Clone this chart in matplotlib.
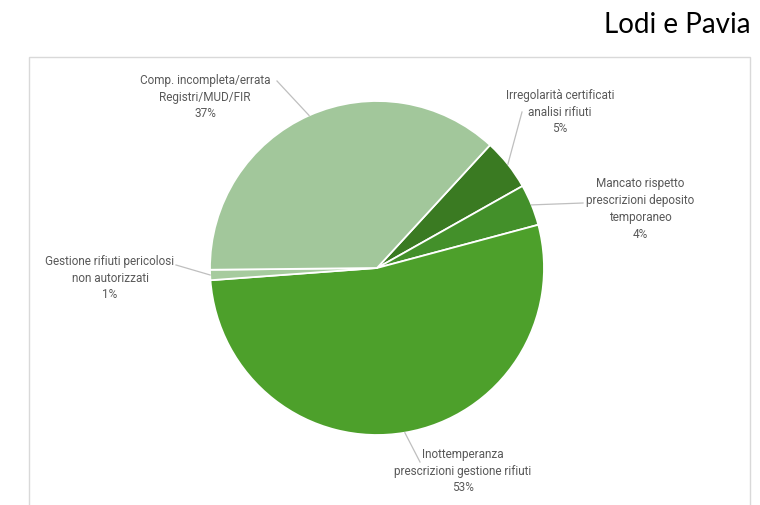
import numpy as np
import matplotlib
matplotlib.use("Agg")
import matplotlib.pyplot as plt
from matplotlib.patches import Rectangle

# slices in clockwise order, starting from the top-right one
labels = [
    "Irregolarità certificati\nanalisi rifiuti",
    "Mancato rispetto\nprescrizioni deposito\ntemporaneo",
    "Inottemperanza\nprescrizioni gestione rifiuti",
    "Gestione rifiuti pericolosi\nnon autorizzati",
    "Comp. incompleta/errata\nRegistri/MUD/FIR",
]
values = [5, 4, 53, 1, 37]
colors = ["#3A7A22", "#43902A", "#4DA02B", "#A6CB9E", "#A2C79B"]

# label layout (pixel positions, y from bottom) and leader anchor next to the text
label_pos = [(560, 393), (640, 296), (463, 34), (110, 227), (205, 408)]
leader_end = [(522, 393), (583, 302), (420, 43), (176, 240), (277, 424)]

W, H = 760, 505
fig = plt.figure(figsize=(W / 100, H / 100), dpi=100)
ax = fig.add_axes([0, 0, 1, 1])

# chart frame
ax.add_patch(Rectangle((29, -5), 721, 453, fill=False, edgecolor="#D9D9D9", linewidth=1))

cx, cy, r = 377, 237, 167
start = 90 - 42.6
wedges, _ = ax.pie(values, colors=colors, startangle=start, counterclock=False,
                   center=(cx, cy), radius=r, frame=True,
                   wedgeprops=dict(edgecolor="white", linewidth=1.3))
ax.set_xlim(0, W)
ax.set_ylim(0, H)
ax.set_aspect("equal")
ax.axis("off")

total = sum(values)
for w, lab, v, pos, end in zip(wedges, labels, values, label_pos, leader_end):
    mid = np.deg2rad((w.theta1 + w.theta2) / 2)
    px, py = cx + r * np.cos(mid), cy + r * np.sin(mid)
    ax.plot([px, end[0]], [py, end[1]], color="#BFBFBF", linewidth=0.9)
    ax.text(pos[0], pos[1], f"{lab}\n{round(100 * v / total)}%", ha="center", va="center",
            fontsize=8.5, color="#595959", family="Roboto", linespacing=1.38)

ax.text(750, 480, "Lodi e Pavia", ha="right", va="center", fontsize=20,
        family="Lato", color="black")

fig.savefig("out.png", dpi=100)
